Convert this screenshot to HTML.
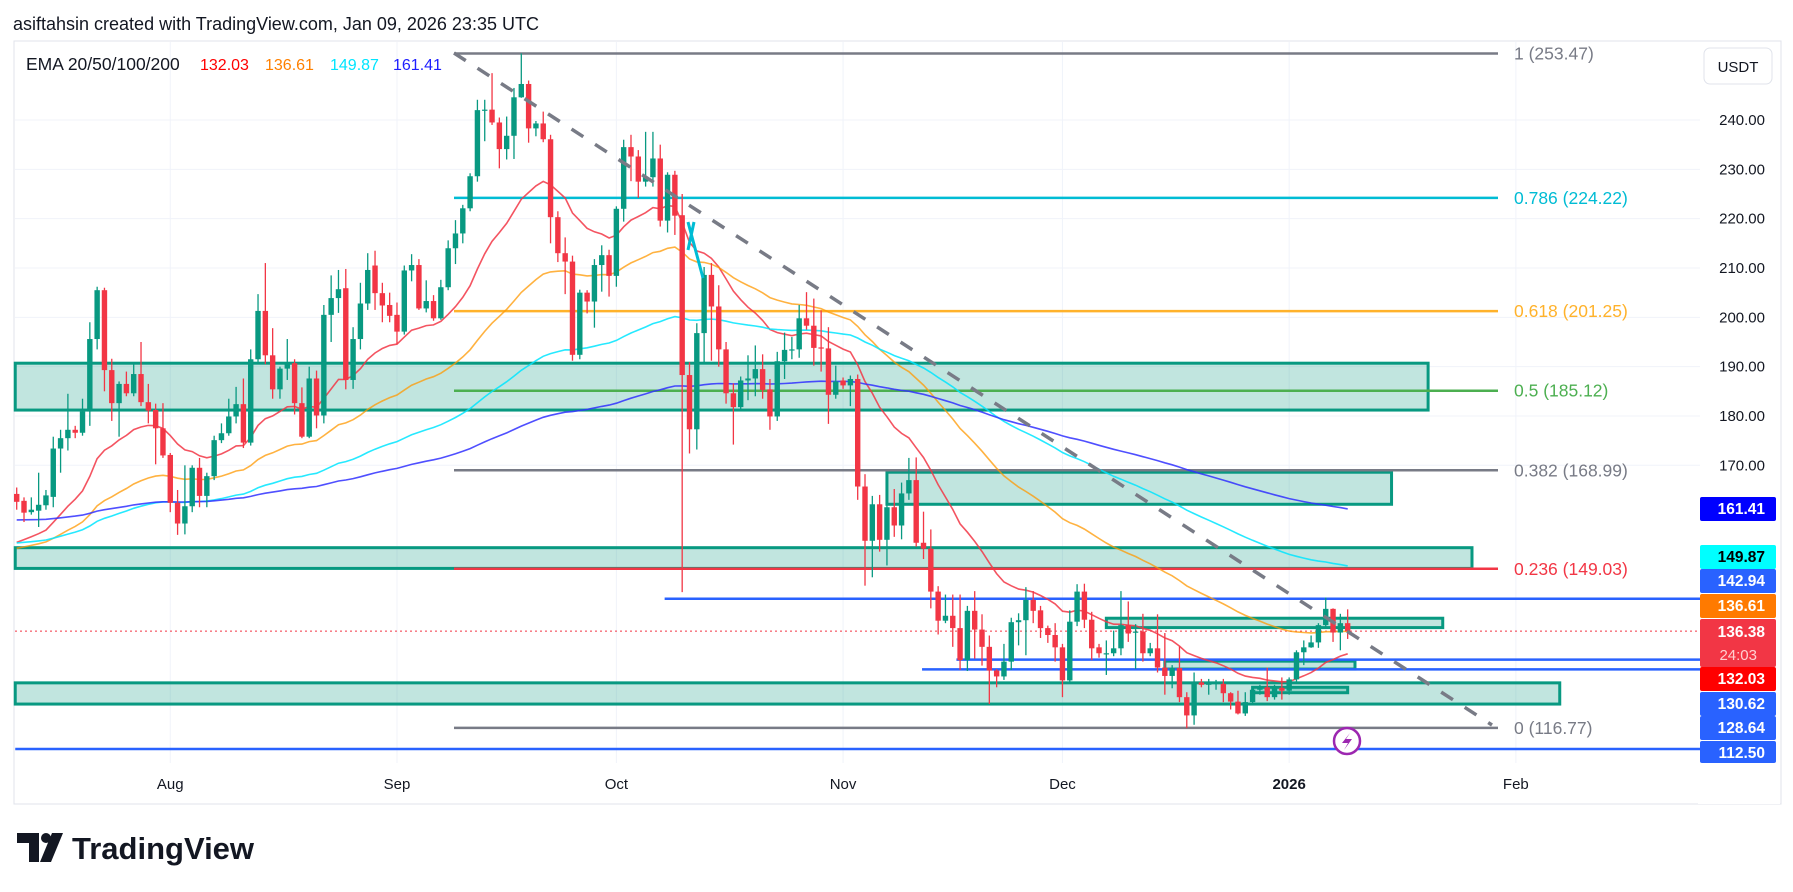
<!DOCTYPE html>
<html><head><meta charset="utf-8"><style>
html,body{margin:0;padding:0;background:#fff;}
svg{display:block;font-family:"Liberation Sans","DejaVu Sans",sans-serif;}
</style></head><body>
<svg id="chart" width="1793" height="892" viewBox="0 0 1793 892" xmlns="http://www.w3.org/2000/svg">
<rect x="0" y="0" width="1793" height="892" fill="#ffffff"/>
<text x="13" y="30" font-size="18" fill="#131722">asiftahsin created with TradingView.com, Jan 09, 2026 23:35 UTC</text>
<rect x="14" y="41" width="1767" height="763" fill="none" stroke="#e0e3eb" stroke-width="1"/>
<g id="grid"></g>
<g id="drawings"></g>
<g id="emas"></g>
<g id="candles"></g>
<g id="overlay"></g>
<g id="axis"></g>
<g id="timeaxis"></g>
<g font-size="16">
<text x="26" y="70" fill="#131722" font-size="17.5">EMA 20/50/100/200</text>
<text x="200" y="70" fill="#ff0000">132.03</text>
<text x="265" y="70" fill="#ff8000">136.61</text>
<text x="330" y="70" fill="#00e5ff">149.87</text>
<text x="393" y="70" fill="#2020ff">161.41</text>
</g>
<g>
<rect x="1704" y="48" width="68" height="36" rx="6" fill="#fff" stroke="#e0e3eb"/>
<text x="1738" y="72" font-size="15" text-anchor="middle" fill="#131722">USDT</text>
</g>
<g>
<path d="M17 833 h22 v29 h-10 v-19 h-12 z" fill="#131722"/>
<circle cx="46" cy="838" r="5" fill="#131722"/>
<path d="M52 833 h11 l-12 29 h-11 z" fill="#131722"/>
<text x="72" y="859" font-size="31" font-weight="bold" fill="#131722">TradingView</text>
</g>
</svg>
<script>
const NS='http://www.w3.org/2000/svg';
const opens=[164.2,162.8,160.5,160.8,161.9,163.6,173.4,175.5,177.2,176.6,180.9,195.6,205.5,189.3,182.6,186.5,184.6,188.5,182.8,181.2,177.5,172.1,162.4,158.2,161.7,169.5,163.8,167.8,175.1,176.5,179.9,182.4,174.6,191.5,201.3,192.3,185.4,189.6,190.7,182.6,175.8,187.6,180.1,200.5,203.9,205.9,187.3,195.6,202.8,210.5,204.9,202.5,200.5,197.1,209.5,210.6,201.8,203.3,199.8,206.1,214.0,217.0,222.1,228.6,242.0,242.1,239.5,234.1,236.8,244.6,247.3,238.3,239.3,236.1,220.3,213.0,211.3,192.4,205.0,203.2,210.6,212.6,208.4,222.0,234.5,232.6,227.5,228.4,232.2,219.6,228.9,220.7,188.3,177.3,196.8,208.6,202.2,193.5,184.6,181.8,187.2,187.6,189.5,185.4,179.9,191.1,193.4,193.5,199.8,198.3,193.9,193.7,184.3,187.2,186.2,187.5,165.7,154.7,162.1,154.9,161.5,157.8,164.3,167.0,154.3,153.1,144.4,138.5,139.5,137.0,130.5,140.5,136.7,133.2,128.4,127.2,130.2,138.2,138.6,142.7,140.6,137.0,135.6,133.1,126.4,138.3,144.4,138.7,133.1,131.9,131.9,132.9,137.6,136.3,136.3,131.9,132.9,129.0,127.3,128.9,123.0,119.3,126.0,125.5,125.8,125.7,123.8,122.1,119.7,122.0,124.5,125.0,123.0,124.9,124.3,126.6,132.1,133.1,134.1,137.6,140.9,136.1,138.0];
const highs=[165.5,163.5,163.5,168.5,165,175.8,177.2,184.5,178,183.5,199,206.2,206,191.6,187,189,190.5,195,186.5,182.5,182.6,172.5,165,170,170,171.5,168.5,176,178.5,183.5,185.9,187.6,193.5,204.7,211,197.8,190,195.6,191.5,185.8,190,189.2,202.5,208.5,209.6,209.8,198,207,213,213.5,207,205,203,210.5,212.8,211.8,207.5,204.5,207.6,215.6,219.7,222.8,229.2,244.1,244.1,249.5,240.5,240.7,246.5,253.5,248,239.8,241.7,237,221.5,216.2,212.5,205.6,205.5,211.8,214.6,213.7,222.5,236,237,233.9,237.6,237.6,235,229.4,229.7,225,190.9,198.8,210.2,211,206.5,195,186.6,188,192.3,194.3,192.5,187.5,193,196.9,196,202.5,205.1,203.8,201.4,198,190.2,187.8,188.2,188.4,168.2,163.8,164,164.1,165.2,166.5,171.5,171.6,160.6,157,145.5,143.8,143.8,143.8,141.5,144.5,139.8,135.5,128.7,133.8,139.1,140,145.3,144.5,141.5,137.5,138,133.8,140.6,145.9,146,140.3,133.8,134.5,136.5,144.5,142.4,137.8,139.9,134,139.8,136,129.5,133.3,124,128,126.7,126.7,126.5,126.7,124,124.3,124,125,125.5,129,125.5,127,127,132.5,134.5,135.5,138,143.2,141,139.9,140.8];
const lows=[161,158.5,160,157.5,161,161.5,168.5,173,175.5,176,178,193.5,185,179,175.8,184,184,182,178.5,170.2,171.5,160.5,155.9,156,160.5,161.5,161.5,167,174.5,176,178.5,173.5,174,190.5,190.5,183.5,183.5,187.3,180.3,175.5,175.5,177.5,178.5,195,200.9,185.4,185.5,193.5,201.5,201.5,199,199,194.5,196.5,207.3,201.5,201,199.3,199.5,205.5,210.8,215,221.5,227.5,235.7,239,230.2,232,232.1,244.5,235.4,236.7,235.5,215,211.2,204.7,191.2,191.5,200.8,197.9,205.2,204.2,206.2,219.4,227.6,224.2,226.5,226.5,218.4,217.2,216.7,144.3,172.4,173.2,190.7,191.2,190,182.5,174.2,181,183.2,184,183.5,177.2,179,187.5,191.5,191.8,197.5,190.2,189,178.4,183.5,185.5,182,163,145.6,147.3,152.5,149.7,155.5,155,163,153.5,151,141,135.7,138,133.2,128.5,128.3,130.8,129.4,121.6,125,126.5,128.5,133.5,131.5,138,135,134,130.2,123,126,137.4,137,130.5,131,127.5,131.3,131.5,134.2,128.7,130.2,131.3,128,123.5,124.8,122,116.7,117.4,125,123.5,124.5,122,120.5,119.5,119.2,121.5,123.5,122.2,122.5,122.5,123.5,126,129.5,133,133,137,134.2,132.5,134.8];
const closes=[162.6,160.4,161.0,162.0,163.9,173.4,175.5,177.2,176.6,180.9,195.6,205.5,189.3,182.6,186.5,184.6,188.5,182.8,181.1,177.5,172.0,162.4,158.2,161.7,169.5,163.8,167.8,175.1,176.5,179.9,182.4,174.6,191.5,201.3,192.3,185.4,189.6,190.7,182.6,175.8,187.6,180.1,200.5,203.9,205.7,187.3,195.6,202.8,209.6,204.9,202.4,200.3,197.1,209.5,210.6,201.8,203.3,199.8,206.1,214.0,217.0,222.1,228.6,242.0,242.1,239.5,234.1,236.8,244.6,247.3,238.3,239.3,236.1,220.3,213.0,211.3,192.4,205.0,203.2,210.6,212.6,208.4,222.0,234.5,232.6,227.5,228.4,232.2,219.6,228.9,220.6,188.3,177.3,196.8,208.6,202.2,193.5,184.6,181.8,187.2,187.6,189.5,185.3,179.9,191.1,193.4,193.5,199.8,198.3,193.8,193.7,184.3,187.0,186.2,187.5,165.7,154.7,162.1,154.9,161.5,157.8,164.3,167.0,154.3,153.1,144.4,138.5,139.5,137.0,130.5,140.5,136.7,133.2,128.4,127.2,130.2,138.2,138.6,142.7,140.5,137.0,135.6,133.1,126.4,138.3,144.4,138.7,132.9,131.9,131.9,132.9,137.6,135.9,136.3,131.9,132.9,129.0,127.3,128.9,123.0,119.3,125.8,125.5,126.0,125.9,123.8,122.1,119.7,122.0,124.5,125.0,123.0,124.8,124.3,126.6,132.1,133.1,134.1,137.6,140.9,136.1,138.0,136.4];
const emaPeriods=[20,50,100,200];
const emaSeeds=[153.5,152.8,154.1,158.9];
const emaColors=['#f23645','#ff9800','#00e5ff','#3030ff'];
const priceTicks=[240,230,220,210,200,190,180,170];
const fibLevels=[1,0.786,0.618,0.5,0.382,0.236,0];
const fibPrices=[253.47,224.22,201.25,185.12,168.99,149.03,116.77];
const fibColors=['#787b86','#00bcd4','#ffb22b','#4caf50','#787b86','#f23645','#787b86'];
const zoneTops=[190.7,168.6,153.3,139.0,130.3,125.9,125.0];
const zoneBottoms=[181.2,162.1,149.1,137.1,128.7,121.6,123.9];
const zoneStartIdx=[-0.2,119,-0.2,149,157,-0.2,169];
const zoneEndIdx=[193,188,199,195,183,211,182];
const hLinePrices=[142.94,130.62,128.64,112.5];
const hLineStartIdx=[88.6,128.5,123.8,-0.2];
const monthLabels=['Aug','Sep','Oct','Nov','Dec','2026','Feb'];
const monthDayIdx=[21,52,82,113,143,174,205];
const tagPrices=[161.41,149.87,142.94,136.61,136.38,132.03,130.62,128.64,112.50];
const currentPrice=136.38;

const X0=16.7, DX=7.313;
function xi(i){return X0+i*DX;}
function yp(p){return 120+(240-p)*4.933;}
function mk(tag,attrs,parent){const e=document.createElementNS(NS,tag);for(const k in attrs)e.setAttribute(k,attrs[k]);parent.appendChild(e);return e;}
const grid=document.getElementById('grid');
const drawings=document.getElementById('drawings');
const emas=document.getElementById('emas');
const cg=document.getElementById('candles');
const ov=document.getElementById('overlay');
const axis=document.getElementById('axis');
const tax=document.getElementById('timeaxis');
const PR=1700;

priceTicks.forEach(function(p){
  const l=mk('line',{x1:15,x2:PR,y1:yp(p),y2:yp(p),stroke:'#f0f3fa','stroke-width':1},grid);
  
  
  const t=mk('text',{x:1765,y:yp(p)+5,'font-size':15,'text-anchor':'end',fill:'#131722'},axis);
  t.textContent=p.toFixed(2);
  
  
});
monthLabels.forEach(function(m,k){
  const x=xi(monthDayIdx[k]);
  const l=mk('line',{x1:x,x2:x,y1:42,y2:763,stroke:'#f0f3fa','stroke-width':1},grid);
  
  
  const t=mk('text',{x:x,y:789,'font-size':15,'text-anchor':'middle',fill:'#131722','font-weight':m==='2026'?'bold':'normal'},tax);
  t.textContent=m;
  
  
});

zoneTops.forEach(function(top,k){
  const x1=Math.max(15,xi(zoneStartIdx[k])), x2=xi(zoneEndIdx[k]);
  const r=mk('rect',{x:x1,y:yp(top),width:x2-x1,height:yp(zoneBottoms[k])-yp(top),fill:'rgba(8,153,129,0.25)',stroke:'#089981','stroke-width':3},drawings);
  
  
});
hLinePrices.forEach(function(p,k){
  const l=mk('line',{x1:Math.max(15,xi(hLineStartIdx[k])),x2:PR,y1:yp(p),y2:yp(p),stroke:'#2962ff','stroke-width':2.5},drawings);
  
  
});
const FX1=454, FX2=1498;
fibPrices.forEach(function(p,k){
  const l=mk('line',{x1:FX1,x2:FX2,y1:yp(p),y2:yp(p),stroke:fibColors[k],'stroke-width':2.5},drawings);
  
  
  const t=mk('text',{x:1514,y:yp(p)+6,'font-size':17.5,fill:fibColors[k]},drawings);
  t.textContent=fibLevels[k]+' ('+p.toFixed(2)+')';
  
  
});
const cp=mk('line',{x1:15,x2:PR,y1:yp(currentPrice),y2:yp(currentPrice),stroke:'#f23645','stroke-width':1,'stroke-dasharray':'2 3'},drawings);



emaPeriods.forEach(function(n,k){
  const a=2/(n+1); let e=emaSeeds[k]; const pts=[];
  closes.forEach(function(c,i){e=e+a*(c-e);pts.push(xi(i).toFixed(1)+','+yp(e).toFixed(1));});
  const pl=mk('polyline',{points:pts.join(' '),fill:'none',stroke:emaColors[k],'stroke-width':1.6,'stroke-opacity':k===1?0.75:0.85},emas);
  
  
});

closes.forEach(function(c,i){
  const o=opens[i], up=c>=o, col=up?'#089981':'#f23645', x=xi(i);
  const g=mk('g',{},cg);
  
  
  mk('line',{x1:x,x2:x,y1:yp(highs[i]),y2:yp(lows[i]),stroke:col,'stroke-width':1.3},g);
  const top=yp(Math.max(o,c)), bot=yp(Math.min(o,c));
  mk('rect',{x:x-2.7,y:top,width:5.4,height:Math.max(1.2,bot-top),fill:col},g);
});

const tl=mk('line',{x1:454,y1:53,x2:1492,y2:725,stroke:'#787b86','stroke-width':3.5,'stroke-dasharray':'14 14'},ov);


const xm=mk('path',{d:'M688 222 L703 278 M694 222 L688 250',stroke:'#00bcd4','stroke-width':3,fill:'none'},ov);


const ic=mk('circle',{cx:1347,cy:741,r:13,fill:'#fff',stroke:'#9c27b0','stroke-width':2.5},ov);


const bolt=mk('path',{d:'M1350 733 L1342 743 L1348 743 L1344 750 L1352 739 L1346 739 Z',fill:'#9c27b0'},ov);



const tagY=[509,557,581,606,643,679,704,728,753];
const tagH=[24,24,24,24,48,24,24,24,24];
const tagBg=['#0000ff','#00ffff','#2962ff','#ff7a00','#f23645','#ff0000','#2962ff','#2962ff','#2962ff'];
const tagFg=['#fff','#000','#fff','#fff','#fff','#fff','#fff','#fff','#fff'];
tagPrices.forEach(function(p,k){
  const h=tagH[k], y=tagY[k]-h/2;
  const r=mk('rect',{x:1700,y:y,width:76,height:Math.min(h,763-y),fill:tagBg[k],rx:2},axis);
  
  
  const t=mk('text',{x:1765,y:(h>24?y+18:y+17),'font-size':15.5,'font-weight':'bold','text-anchor':'end',fill:tagFg[k]},axis);
  t.textContent=p.toFixed(2);
  
  
  if(h>24){
    const t2=mk('text',{x:1757,y:y+41,'font-size':15,'text-anchor':'end',fill:'#ffd0d0'},axis);
    t2.textContent='24:03';
    
    
  }
});
const cover=mk('rect',{x:1698,y:764,width:82,height:40,fill:'#fff'},axis);


</script>
</body></html>
